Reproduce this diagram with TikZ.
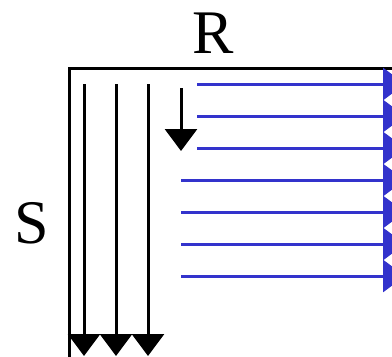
\documentclass[tikz,border=0pt]{standalone}
\usepackage{fontspec}
\setmainfont{Liberation Serif}
\usetikzlibrary{arrows.meta}
\definecolor{arrowblue}{HTML}{3333CC}
\tikzset{
  frame/.style={line width=3pt, black},
  blk/.style={line width=3pt, black, -{Triangle[length=22pt,width=32pt]}},
  blu/.style={line width=3pt, arrowblue, -{Triangle[length=22pt,width=32pt]}},
  lbl/.style={inner sep=0pt, font=\fontsize{62}{62}\selectfont}
}
\begin{document}
\begin{tikzpicture}[x=1pt,y=-1pt]
\useasboundingbox (0,0) rectangle (392,357);
\clip (0,0) rectangle (392,357);
\node[lbl] (R) at (213,33) {R};
\node[lbl] (S) at (32,223) {S};
\coordinate (c0) at (69,68);
\coordinate (c1) at (400,68);
\coordinate (c2) at (69,370);
\draw[frame] (c1) -- (c0) -- (c2);
\foreach \x [count=\i] in {84,116,148}{
  \coordinate (vs\i) at (\x,84);
  \coordinate (ve\i) at (\x,356);
  \draw[blk] (vs\i) -- (ve\i);
}
\coordinate (ss) at (181,88);
\coordinate (se) at (181,151);
\draw[blk] (ss) -- (se);
\foreach \y/\x [count=\i] in {84/197,116/197,148/197,180/181,212/181,244/181,276/181}{
  \coordinate (hs\i) at (\x,\y);
  \coordinate (he\i) at (405,\y);
  \draw[blu] (hs\i) -- (he\i);
}
\end{tikzpicture}
\end{document}
